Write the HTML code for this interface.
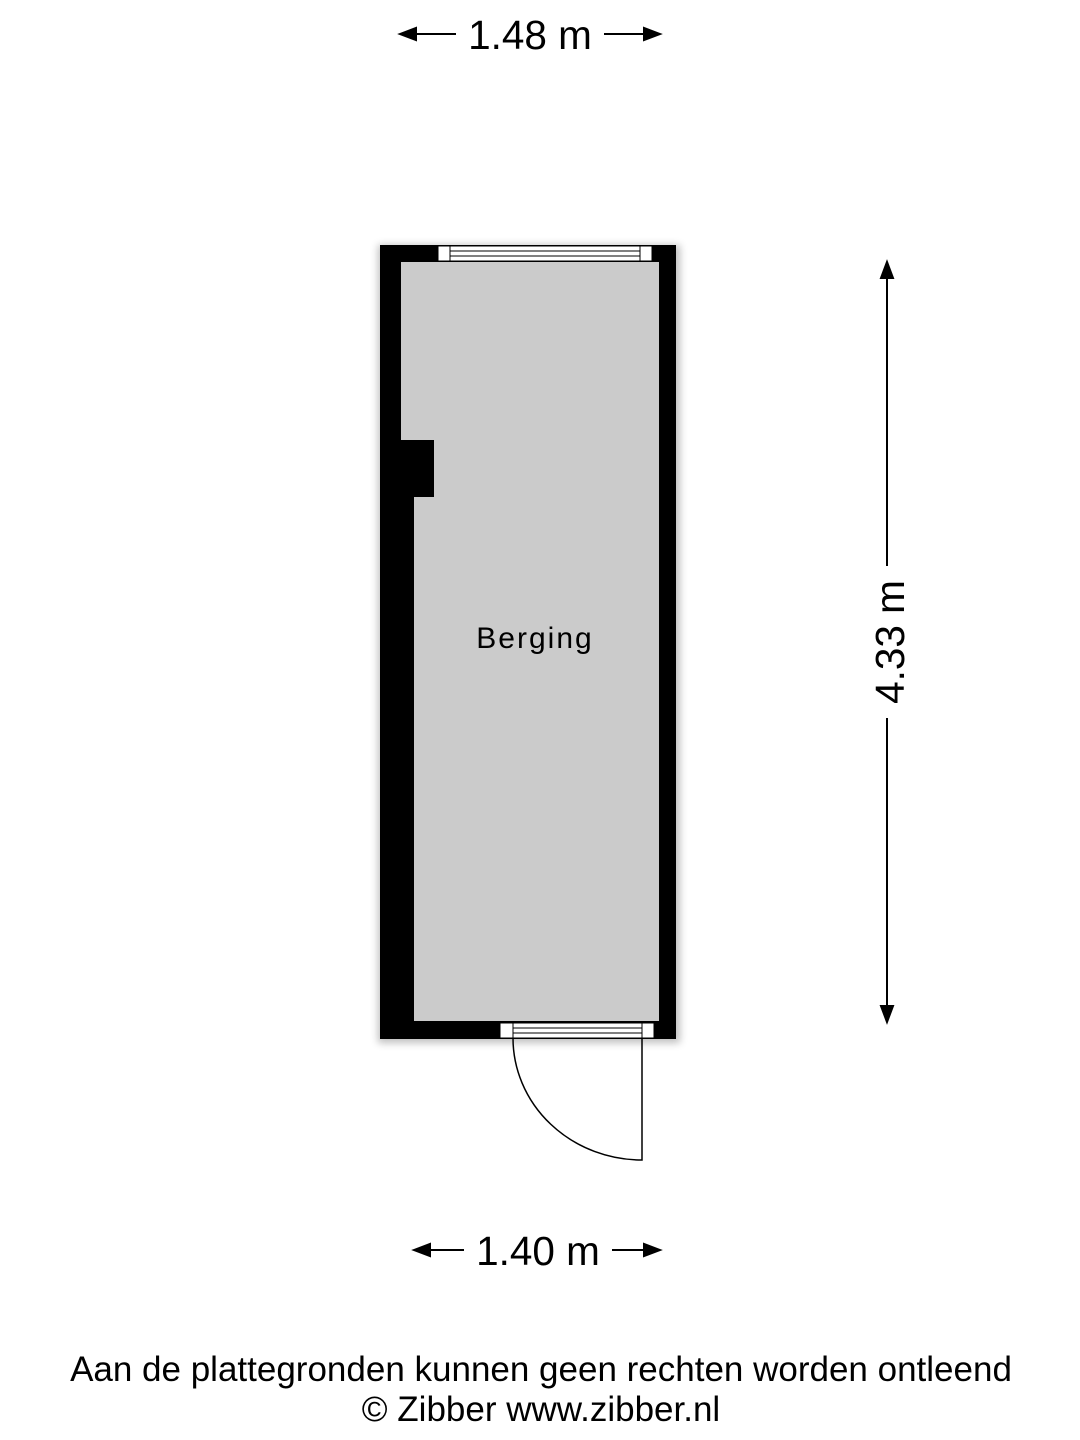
<!DOCTYPE html>
<html><head><style>
body{margin:0;background:#fff;}
svg{display:block;}
text{font-family:"Liberation Sans",sans-serif;fill:#000;}
</style></head><body>
<svg width="1080" height="1440" viewBox="0 0 1080 1440">
<defs><filter id="sh" x="-20%" y="-20%" width="140%" height="140%"><feGaussianBlur stdDeviation="4"/></filter></defs>
<rect x="378" y="245" width="302" height="798" fill="#000" opacity="0.25" filter="url(#sh)"/>
<rect x="380" y="245" width="296" height="794" fill="#000"/>
<rect x="401" y="262" width="258" height="759" fill="#cbcbcb"/>
<rect x="401" y="440" width="13" height="581" fill="#000"/>
<rect x="414" y="440" width="20" height="57" fill="#000"/>
<rect x="438" y="246" width="214" height="15" fill="#fff" stroke="#000" stroke-width="1"/>
<line x1="450" y1="246" x2="450" y2="261" stroke="#000"/>
<line x1="640" y1="246" x2="640" y2="261" stroke="#000"/>
<line x1="450" y1="251" x2="640" y2="251" stroke="#000"/>
<line x1="450" y1="256" x2="640" y2="256" stroke="#000"/>
<rect x="500" y="1023" width="154" height="15" fill="#fff" stroke="#000" stroke-width="1"/>
<line x1="513" y1="1023" x2="513" y2="1038" stroke="#000"/>
<line x1="642" y1="1023" x2="642" y2="1038" stroke="#000"/>
<line x1="513" y1="1028" x2="642" y2="1028" stroke="#000"/>
<line x1="513" y1="1033" x2="642" y2="1033" stroke="#000"/>
<path d="M513 1038 A129 122 0 0 0 642 1160 L642 1038" fill="none" stroke="#000" stroke-width="1.5"/>
<text x="535" y="648" font-size="30" text-anchor="middle" letter-spacing="2">Berging</text>
<g stroke="#000" stroke-width="2" fill="#000">
<line x1="410" y1="34" x2="456" y2="34"/><path d="M400 34 L416 28 L416 40Z"/>
<line x1="604" y1="34" x2="650" y2="34"/><path d="M660 34 L644 28 L644 40Z"/>
<line x1="424" y1="1250" x2="464" y2="1250"/><path d="M414 1250 L430 1244 L430 1256Z"/>
<line x1="612" y1="1250" x2="650" y2="1250"/><path d="M660 1250 L644 1244 L644 1256Z"/>
<line x1="887" y1="272" x2="887" y2="566"/><path d="M887 262 L881 278 L893 278Z"/>
<line x1="887" y1="718" x2="887" y2="1012"/><path d="M887 1022 L881 1006 L893 1006Z"/>
</g>
<text x="530" y="49" font-size="40.5" text-anchor="middle">1.48 m</text>
<text x="538" y="1265" font-size="40.5" text-anchor="middle">1.40 m</text>
<text transform="translate(904,642) rotate(-90)" font-size="40.5" text-anchor="middle">4.33 m</text>
<text x="541" y="1381" font-size="35" text-anchor="middle">Aan de plattegronden kunnen geen rechten worden ontleend</text>
<text x="541" y="1421" font-size="35" text-anchor="middle">© Zibber www.zibber.nl</text>
</svg>
</body></html>
